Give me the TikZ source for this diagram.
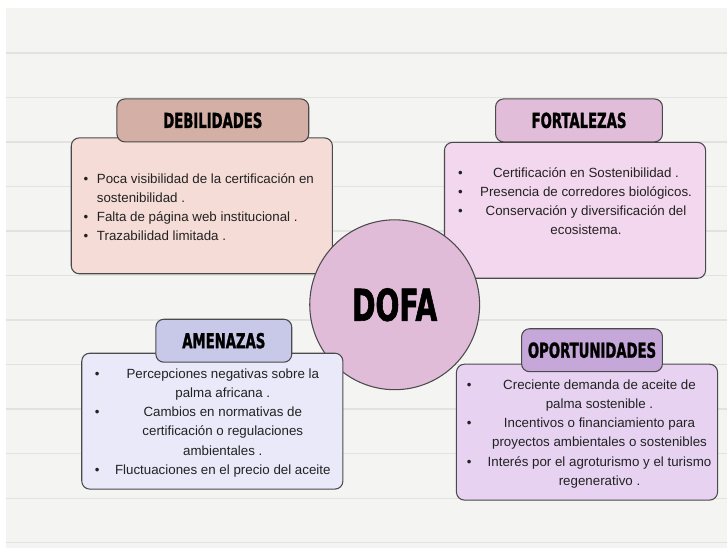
\documentclass[tikz,border=0pt]{standalone}
\usepackage{fontspec}
\usepackage{array}
\setmainfont{Liberation Sans}
\newfontfamily\headfont{DejaVu Sans Bold}[FakeStretch=0.64,FakeBold=1.3]
\definecolor{paper}{HTML}{F4F4F2}
\definecolor{paperrule}{HTML}{E2E2E0}
\definecolor{edge}{HTML}{4A4A4A}
\definecolor{ink}{HTML}{222222}
\definecolor{debhead}{HTML}{D3AFA6}
\definecolor{debbody}{HTML}{F5DCD6}
\definecolor{forhead}{HTML}{E1BDD9}
\definecolor{forbody}{HTML}{F3D7EE}
\definecolor{amehead}{HTML}{C8C9E8}
\definecolor{amebody}{HTML}{E9E9F9}
\definecolor{opohead}{HTML}{C6A7D9}
\definecolor{opobody}{HTML}{E7D3F1}
\definecolor{dofafill}{HTML}{E1BCD8}
\newcommand{\centerlist}[2][165pt]{\begin{tabular}{@{}p{13.5pt}@{}>{\centering\arraybackslash}p{#1}@{}}#2\end{tabular}}
\newcommand{\leftlist}[1]{\begin{tabular}{@{}p{10pt}@{}>{\raggedright\arraybackslash}p{169pt}@{}}#1\end{tabular}}
\tikzset{
    headbox/.style={draw=edge, line width=0.8pt, rounded corners=6pt, minimum height=32.25pt, inner sep=0pt,
        font=\headfont\fontsize{15.5}{17}\selectfont},
    bodybox/.style={draw=edge, line width=0.8pt, rounded corners=6pt, minimum width=196pt, minimum height=102pt, inner sep=0pt},
    bodytext/.style={inner sep=0pt, text=ink, font=\fontsize{10}{14.3}\selectfont},
}
\begin{document}
\begin{tikzpicture}[x=0.75pt,y=-0.75pt]
        % paper
        \fill[white] (0,0) rectangle (728,551);
        \fill[paper] (6,8) rectangle (728,548);
        \foreach \k in {0,...,11}
            \draw[paperrule, line width=0.9pt] (6,53+44.55*\k) -- (728,53+44.55*\k);
        % top boxes
        \node[bodybox, fill=debbody] (debbody) at (202,206) {};
        \node[bodytext] (debtext) at (203,208) {\leftlist{%
            \textbullet & Poca visibilidad de la certificación en\par sostenibilidad . \\
            \textbullet & Falta de página web institucional . \\
            \textbullet & Trazabilidad limitada .}};
        \node[headbox, fill=debhead, minimum width=144pt] (debhead) at (213,120.5) {DEBILIDADES};
        \node[bodybox, fill=forbody] (forbody) at (575.5,210.5) {};
        \node[bodytext] (fortext) at (577.5,202) {\centerlist{%
            \textbullet & Certificación en Sostenibilidad . \\
            \textbullet & Presencia de corredores biológicos. \\
            \textbullet & Conservación y diversificación del\par ecosistema.}};
        \node[headbox, fill=forhead, minimum width=125.25pt] (forhead) at (579.5,120.5) {FORTALEZAS};
        % centre
        \node[circle, draw=edge, line width=0.8pt, fill=dofafill, minimum size=127.5pt, inner sep=0pt,
            font=\headfont\fontsize{33}{35}\selectfont] (dofa) at (395,305) {DOFA};
        % bottom boxes
        \node[bodybox, fill=amebody] (amebody) at (212.5,421.5) {};
        \node[bodytext] (ametext) at (214,423) {\centerlist{%
            \textbullet & Percepciones negativas sobre la\par palma africana . \\
            \textbullet & Cambios en normativas de\par certificación o regulaciones\par ambientales . \\
            \textbullet & Fluctuaciones en el precio del aceite}};
        \node[headbox, fill=amehead, minimum width=102pt] (amehead) at (224,341) {AMENAZAS};
        \node[bodybox, fill=opobody] (opobody) at (587.5,432.5) {};
        \node[bodytext] (opotext) at (591,434) {\centerlist[172pt]{%
            \textbullet & Creciente demanda de aceite de\par palma sostenible . \\
            \textbullet & Incentivos o financiamiento para\par proyectos ambientales o sostenibles \\
            \textbullet & Interés por el agroturismo y el turismo\par regenerativo .}};
        \node[headbox, fill=opohead, minimum width=105.75pt] (opohead) at (592.5,350.5) {OPORTUNIDADES};
\end{tikzpicture}
\end{document}
